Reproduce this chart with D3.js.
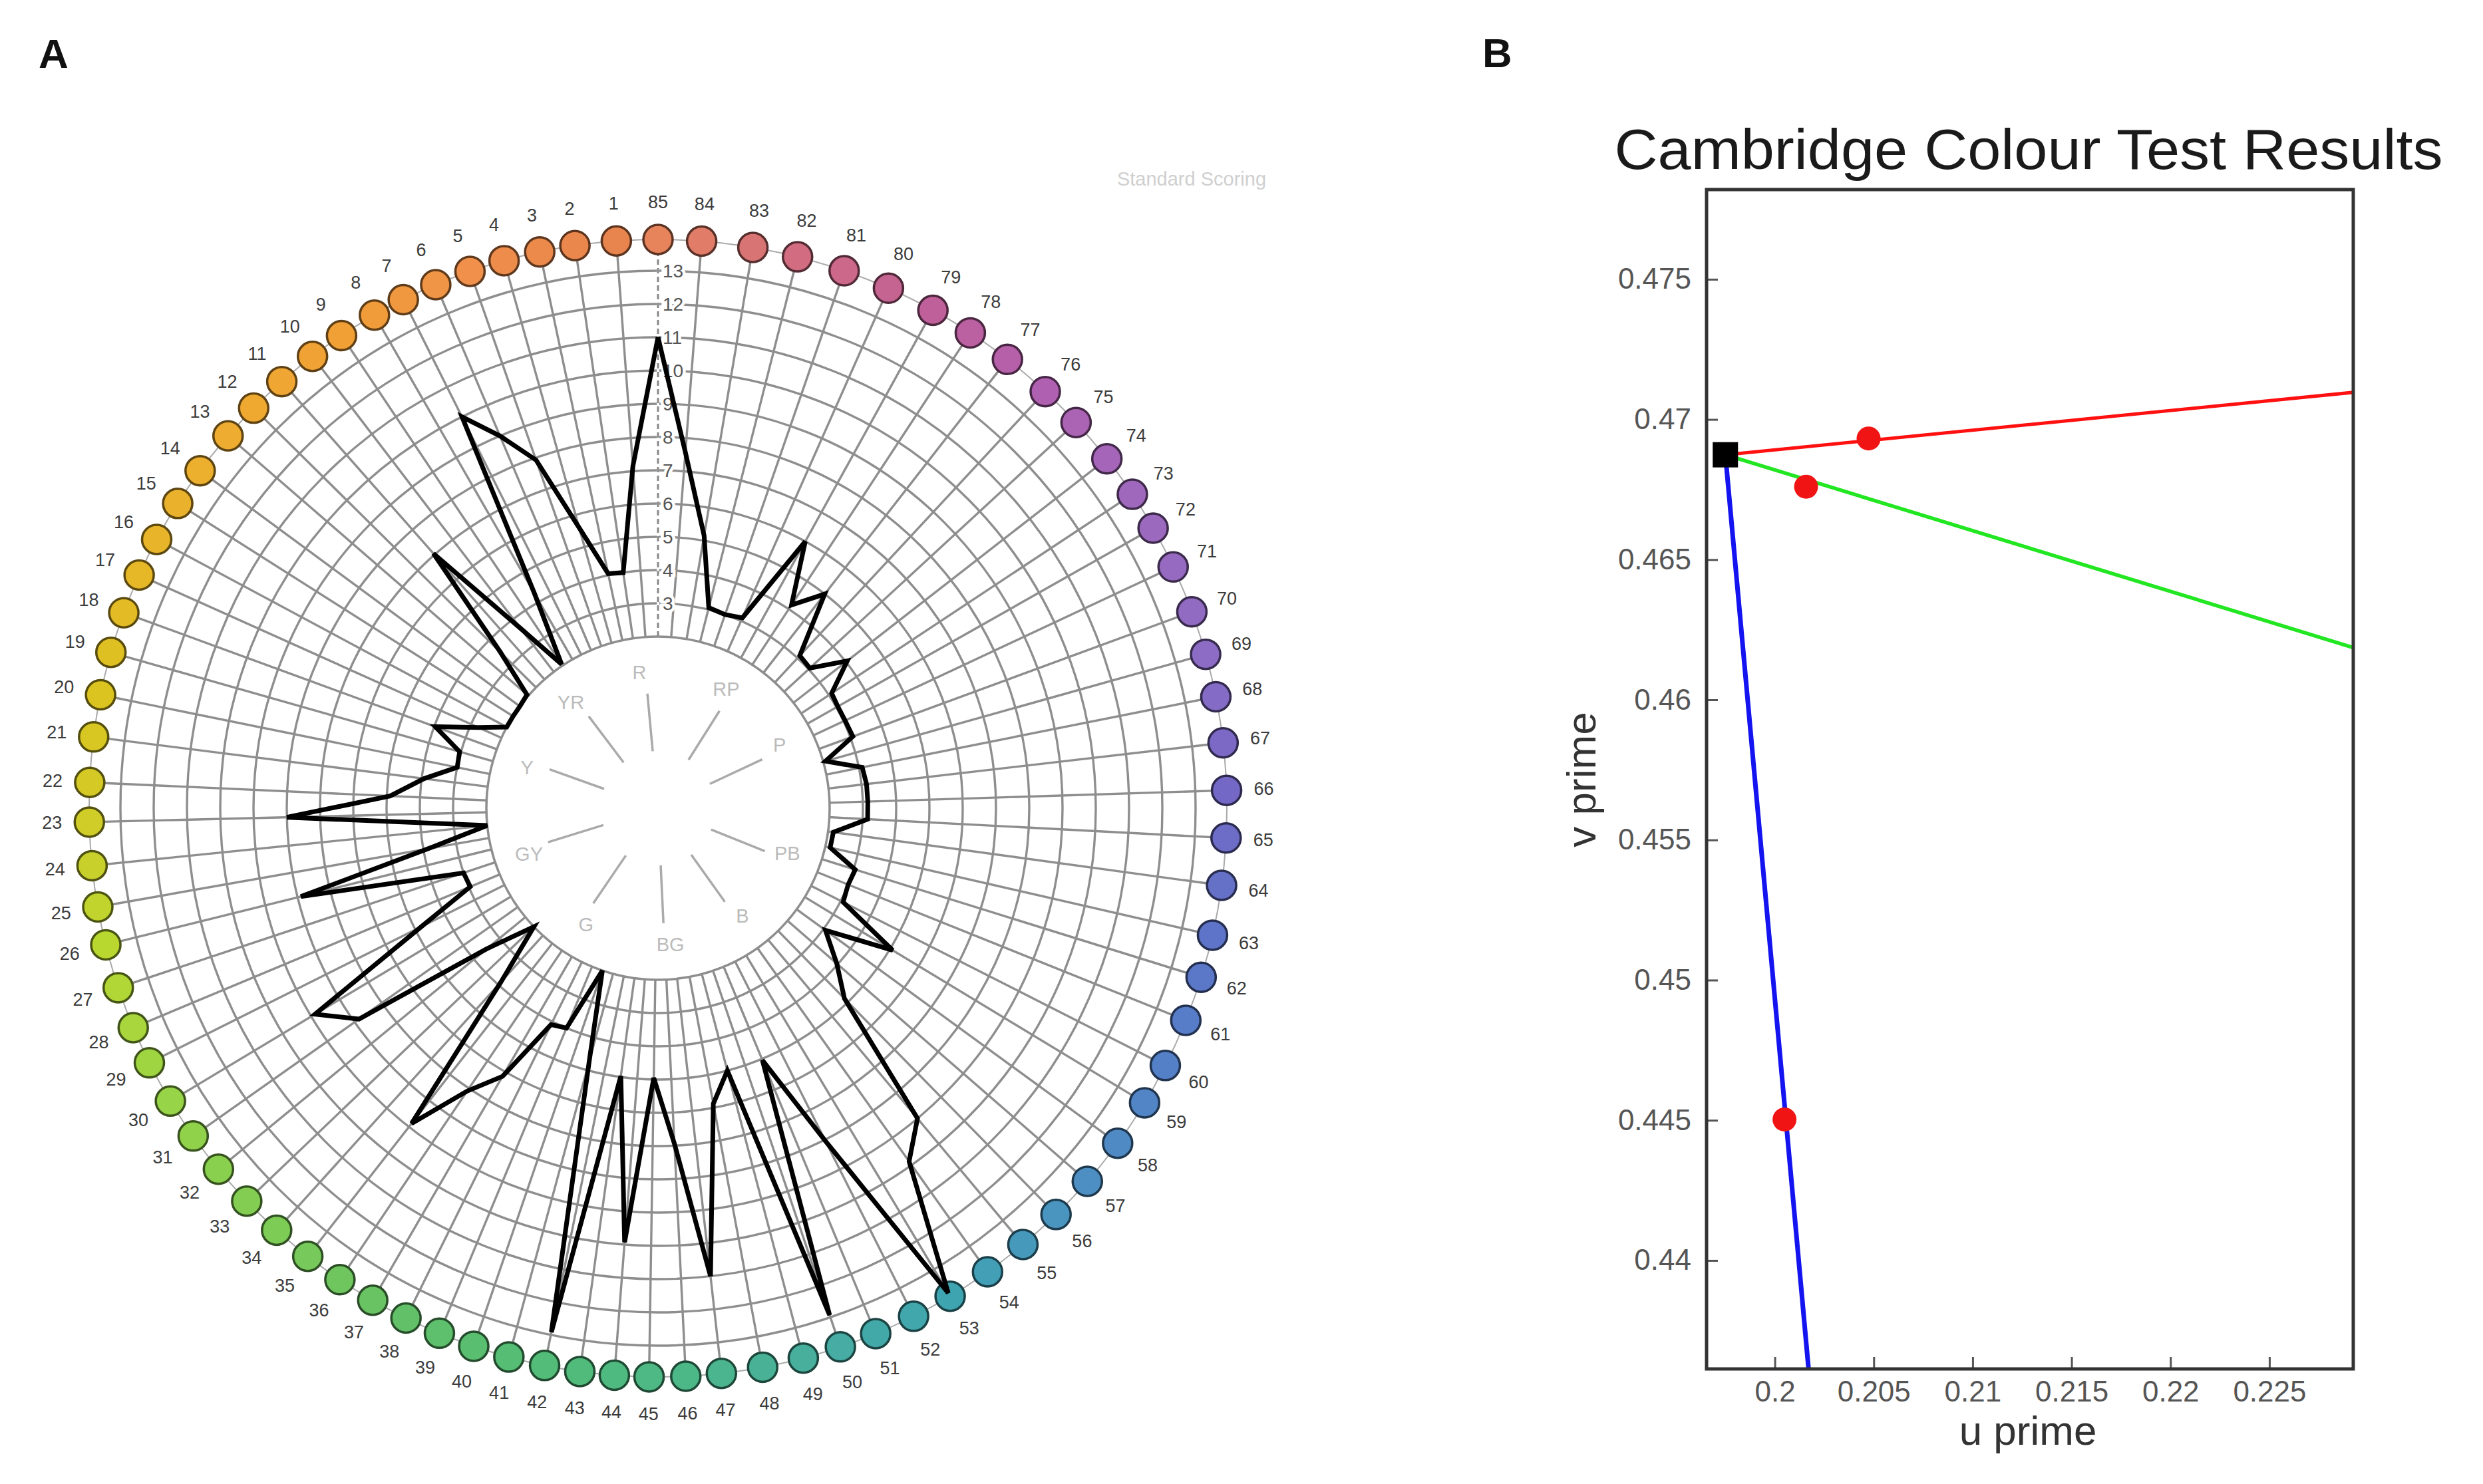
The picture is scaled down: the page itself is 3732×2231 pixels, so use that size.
<!DOCTYPE html>
<html>
<head>
<meta charset="utf-8">
<script src="https://cdn.jsdelivr.net/npm/d3@7"></script>
<style>
  body { margin: 0; background: #fff; }
  svg { display: block; font-family: "Liberation Sans", Arial, Helvetica, sans-serif; }
</style>
</head>
<body>
<svg id="chart" width="3732" height="2231"></svg>
<script>
// ---- panel A data: FM100 cap error scores ----
const capNumbers = d3.range(1, 86);
// hue angle of each cap on the plot (degrees clockwise from top), caps 1..85
const capAngle = [355.8, 351.6, 348.0, 344.3, 340.7, 337.0, 333.4, 330.1, 326.2, 322.6,
  318.6, 314.7, 310.9, 306.4, 302.4, 298.2, 294.2, 290.1, 285.9, 281.5,
  277.2, 272.6, 268.6, 264.2, 260.0, 256.1, 251.6, 247.3, 243.4, 239.0,
  234.8, 230.6, 226.3, 222.1, 218.0, 214.0, 210.1, 206.3, 202.6, 198.9,
  195.2, 191.5, 187.9, 184.4, 180.9, 177.2, 173.6, 169.4, 165.2, 161.3,
  157.5, 153.3, 149.1, 144.6, 140.1, 135.6, 131.0, 126.1, 121.2, 116.9,
  111.9, 107.3, 102.9, 97.8, 93.0, 88.2, 83.4, 78.7, 74.3, 69.8,
  64.9, 60.5, 56.5, 52.1, 47.3, 42.9, 37.9, 33.3, 28.9, 23.9,
  19.1, 14.2, 9.6, 4.4, 0];
// error score per cap, caps 1..85
const capScore = [7.15, 4.0, 4.05, 5.6, 7.93, 9.0, 10.0, 4.3, 2.05, 3.65,
  7.05, 3.5, 2.05, 2.0, 2.0, 2.0, 2.75, 3.97, 3.04, 3.0,
  3.93, 4.9, 8.0, 2.0, 3.85, 7.9, 3.0, 2.96, 4.8, 8.87,
  7.84, 3.5, 2.0, 3.88, 8.87, 7.1, 6.16, 4.1, 4.0, 2.0,
  4.73, 12.92, 4.97, 9.93, 4.95, 6.94, 11.0, 5.88, 5.0, 12.93,
  5.04, 8.04, 13.83, 9.87, 9.0, 4.85, 3.96, 3.07, 5.09, 3.08,
  3.0, 3.05, 2.15, 2.16, 3.15, 3.15, 3.15, 3.1, 2.07, 3.08,
  3.05, 3.05, 3.1, 4.05, 3.05, 3.1, 5.0, 4.15, 6.0, 3.1,
  3.0, 3.06, 5.15, 7.57, 11.0];
const radialTicks = [3, 4, 5, 6, 7, 8, 9, 10, 11, 12, 13];
const hueNames = ["R", "RP", "P", "PB", "B", "BG", "G", "GY", "Y", "YR"];
const hueAngle = [354.7, 32.3, 64.9, 111.9, 144.5, 177.3, 214.2, 252.8, 289.7, 323.0];

// ---- panel B data: Cambridge Colour Test ----
const originUV = [0.1975, 0.46874];
const axisNames = ["protan", "deutan", "tritan"];
const axisEndU = [0.2293, 0.2293, 0.20171];
const axisEndV = [0.47097, 0.46185, 0.4361];
const thresholdU = [0.20474, 0.20158, 0.20049];
const thresholdV = [0.46932, 0.46760, 0.44503];
const uTicks = [0.2, 0.205, 0.21, 0.215, 0.22, 0.225];
const vTicks = [0.44, 0.445, 0.45, 0.455, 0.46, 0.465, 0.47, 0.475];

// colour stops for the cap dots (cap number -> colour)
const capColorStops = [1, 5, 9, 13, 17, 20, 23, 26, 30, 34, 38, 42, 46, 50, 53, 56, 60, 63, 66, 69, 73, 76, 79, 82, 85];
const capColorValues = ["#e8844e", "#f0904a", "#f0a035", "#eeac30", "#e6b828", "#dcc420", "#d0cc28", "#b8d830",
  "#98d448", "#7ccc55", "#62c068", "#52bc78", "#4cb888", "#46aca4", "#3ea4b0", "#4a94c0", "#5480c8",
  "#5e74c8", "#7468c6", "#8c6cc4", "#a068bc", "#b060b0", "#c0609a", "#d26c80", "#e8845c"];

const svg = d3.select('#chart');
const rad = (d) => d * Math.PI / 180;

// ================= panel A =================
const cx = 989, cy = 1215;
const rScale = d3.scaleLinear().domain([2, 13]).range([258, 808]);
const ringR = 855;
const colorScale = d3.scaleLinear().domain(capColorStops).range(capColorValues);
const polar = (deg, r) => [cx + r * Math.sin(rad(deg)), cy - r * Math.cos(rad(deg))];

svg.append('text').attr('x', 58).attr('y', 102)
  .attr('font-size', 62).attr('font-weight', 'bold').attr('fill', '#111').text('A');

svg.append('text').attr('x', 1791).attr('y', 279).attr('text-anchor', 'middle')
  .attr('font-size', 29).attr('fill', '#cfcfcf').text('Standard Scoring');

let gA = svg.append('g');

// concentric grid
gA.selectAll('circle.grid').data(radialTicks).join('circle')
  .attr('class', 'grid').attr('cx', cx).attr('cy', cy).attr('r', (d) => rScale(d))
  .attr('fill', 'none').attr('stroke', '#8e8e8e').attr('stroke-width', 3.4);

// spokes
gA.selectAll('line.spoke').data(capNumbers).join('line')
  .attr('class', 'spoke')
  .attr('x1', (d, i) => polar(capAngle[i], rScale(2))[0])
  .attr('y1', (d, i) => polar(capAngle[i], rScale(2))[1])
  .attr('x2', (d, i) => polar(capAngle[i], ringR)[0])
  .attr('y2', (d, i) => polar(capAngle[i], ringR)[1])
  .attr('stroke', (d) => d === 85 ? '#fff' : '#8e8e8e')
  .attr('stroke-width', 3.4);

// dashed zero spoke
gA.append('line')
  .attr('x1', cx).attr('y1', cy - rScale(2)).attr('x2', cx).attr('y2', cy - ringR)
  .attr('stroke', '#888').attr('stroke-width', 3).attr('stroke-dasharray', '8,5');

// thin ring through the caps
gA.append('circle').attr('cx', cx).attr('cy', cy).attr('r', ringR)
  .attr('fill', 'none').attr('stroke', '#aaa').attr('stroke-width', 2);

// radial tick labels
gA.selectAll('text.rtick').data(radialTicks).join('text')
  .attr('class', 'rtick')
  .attr('x', cx + 7).attr('y', (d) => cy - rScale(d))
  .attr('dominant-baseline', 'central')
  .attr('font-size', 28).attr('fill', '#555')
  .attr('stroke', '#fff').attr('stroke-width', 9).attr('paint-order', 'stroke')
  .text((d) => d);

// caps
gA.selectAll('circle.cap').data(capNumbers).join('circle')
  .attr('class', 'cap')
  .attr('cx', (d, i) => polar(capAngle[i], ringR)[0])
  .attr('cy', (d, i) => polar(capAngle[i], ringR)[1])
  .attr('r', 22)
  .attr('fill', (d) => colorScale(d))
  .attr('stroke', (d) => d3.color(colorScale(d)).darker(2.6))
  .attr('stroke-width', 3.5);

gA.selectAll('text.capLabel').data(capNumbers).join('text')
  .attr('class', 'capLabel')
  .attr('x', (d, i) => polar(capAngle[i], 911)[0])
  .attr('y', (d, i) => polar(capAngle[i], 911)[1])
  .attr('text-anchor', 'middle').attr('dominant-baseline', 'central')
  .attr('font-size', 27).attr('fill', '#3c3c3c')
  .text((d) => d);

// inner circle with hue labels
gA.append('circle').attr('cx', cx).attr('cy', cy).attr('r', rScale(2))
  .attr('fill', '#fff').attr('stroke', '#8e8e8e').attr('stroke-width', 3.5);

gA.selectAll('line.hue').data(hueNames).join('line')
  .attr('class', 'hue')
  .attr('x1', (d, i) => polar(hueAngle[i], 86)[0])
  .attr('y1', (d, i) => polar(hueAngle[i], 86)[1])
  .attr('x2', (d, i) => polar(hueAngle[i], 173)[0])
  .attr('y2', (d, i) => polar(hueAngle[i], 173)[1])
  .attr('stroke', '#aaa').attr('stroke-width', 3.5);

gA.selectAll('text.hue').data(hueNames).join('text')
  .attr('class', 'hue')
  .attr('x', (d, i) => polar(hueAngle[i] - 2.5, 206)[0])
  .attr('y', (d, i) => polar(hueAngle[i] - 2.5, 206)[1])
  .attr('text-anchor', 'middle').attr('dominant-baseline', 'central')
  .attr('font-size', 29).attr('fill', '#bbb')
  .text((d) => d);

// error score polygon
let radial = d3.lineRadial()
  .angle((d, i) => rad(capAngle[i]))
  .radius((d) => rScale(d))
  .curve(d3.curveLinearClosed);

gA.append('path')
  .attr('transform', `translate(${cx},${cy})`)
  .attr('d', radial(capScore))
  .attr('fill', 'none').attr('stroke', '#000').attr('stroke-width', 7)
  .attr('stroke-linejoin', 'miter');

// ================= panel B =================
const plotLeft = 2565, plotRight = 3537, plotTop = 285, plotBottom = 2058;
const x = d3.scaleLinear().domain([0.19655, 0.22924]).range([plotLeft, plotRight]);
const y = d3.scaleLinear().domain([0.43613, 0.47820]).range([plotBottom, plotTop]);

svg.append('text').attr('x', 2228).attr('y', 101)
  .attr('font-size', 62).attr('font-weight', 'bold').attr('fill', '#111').text('B');

svg.append('text').attr('x', 3049).attr('y', 254).attr('text-anchor', 'middle')
  .attr('font-size', 86).attr('fill', '#1a1a1a')
  .attr('textLength', 1245).attr('lengthAdjust', 'spacingAndGlyphs')
  .text('Cambridge Colour Test Results');

let fmt = (d) => String(+d.toFixed(3));

// ticks point into the plot box
let xAxis = svg.append('g').attr('transform', `translate(0,${plotBottom})`)
  .call(d3.axisBottom(x).tickValues(uTicks).tickFormat(fmt).tickSize(-18).tickPadding(18));
let yAxis = svg.append('g').attr('transform', `translate(${plotLeft},0)`)
  .call(d3.axisLeft(y).tickValues(vTicks).tickFormat(fmt).tickSize(-17).tickPadding(23));

[xAxis, yAxis].forEach((ax) => {
  ax.select('.domain').remove();
  ax.selectAll('line').attr('stroke', '#555').attr('stroke-width', 3);
  ax.selectAll('text').attr('font-size', 44).attr('fill', '#555')
    .attr('font-family', '"Liberation Sans", Arial, sans-serif');
});

svg.append('defs').append('clipPath').attr('id', 'plotClip')
  .append('rect').attr('x', plotLeft).attr('y', plotTop)
  .attr('width', plotRight - plotLeft).attr('height', plotBottom - plotTop);

let lineColors = ['#ff1010', '#22e622', '#1414f0'];
let lineWidths = [5, 5.5, 7];
let plot = svg.append('g').attr('clip-path', 'url(#plotClip)');

axisNames.forEach((name, i) => {
  plot.append('line')
    .attr('class', name)
    .attr('x1', x(originUV[0])).attr('y1', y(originUV[1]))
    .attr('x2', x(axisEndU[i])).attr('y2', y(axisEndV[i]))
    .attr('stroke', lineColors[i]).attr('stroke-width', lineWidths[i]);
});

plot.selectAll('circle.thr').data(thresholdU).join('circle')
  .attr('class', 'thr')
  .attr('cx', (d) => x(d))
  .attr('cy', (d, i) => y(thresholdV[i]))
  .attr('r', 18).attr('fill', '#f01414');

svg.append('rect')
  .attr('x', x(originUV[0]) - 19).attr('y', y(originUV[1]) - 19)
  .attr('width', 38).attr('height', 38).attr('fill', '#000');

svg.append('rect').attr('x', plotLeft).attr('y', plotTop)
  .attr('width', plotRight - plotLeft).attr('height', plotBottom - plotTop)
  .attr('fill', 'none').attr('stroke', '#333').attr('stroke-width', 5);

svg.append('text').attr('x', 3048).attr('y', 2172).attr('text-anchor', 'middle')
  .attr('font-size', 62).attr('fill', '#333').text('u prime');

svg.append('text').attr('transform', 'translate(2398,1172) rotate(-90)')
  .attr('text-anchor', 'middle')
  .attr('font-size', 62).attr('fill', '#333').text('v prime');
</script>
</body>
</html>
